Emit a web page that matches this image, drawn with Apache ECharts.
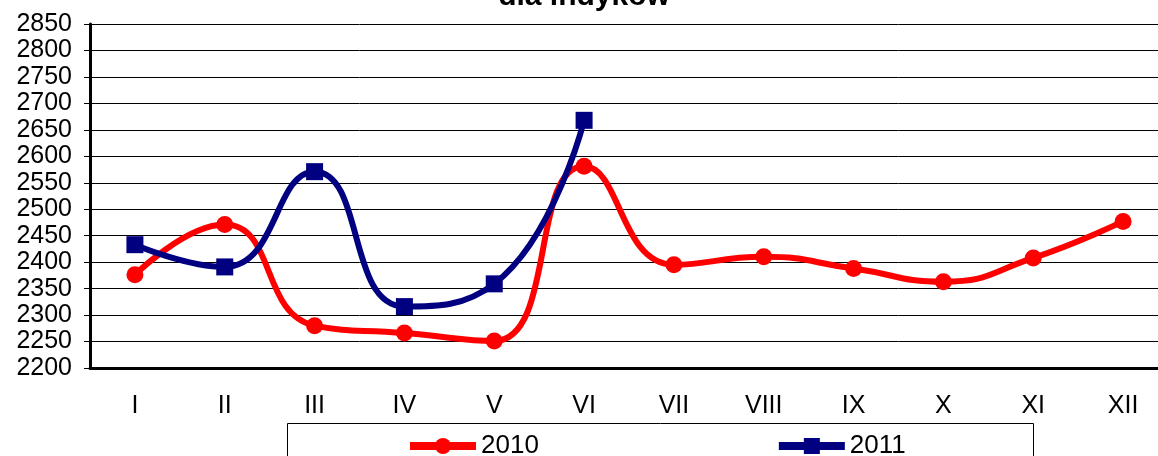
<!DOCTYPE html>
<html>
<head>
<meta charset="utf-8">
<script src="https://cdn.jsdelivr.net/npm/echarts@6/dist/echarts.min.js"></script>
<style>
  html, body { margin: 0; padding: 0; background: #fff; overflow: hidden; }
  #chart { width: 1168px; height: 456px; }
</style>
</head>
<body>
<div id="chart"></div>
<script>
var months = ['I', 'II', 'III', 'IV', 'V', 'VI', 'VII', 'VIII', 'IX', 'X', 'XI', 'XII'];
var ceny2010 = [2376, 2471, 2280, 2266, 2251, 2581, 2395, 2410, 2388, 2363, 2408, 2477];
var ceny2011 = [2433, 2391, 2571, 2316, 2359, 2668];

var myChart = echarts.init(document.getElementById('chart'));
var font = 'Liberation Sans, Arial, sans-serif';

var option = {
  animation: false,
  backgroundColor: '#fff',
  title: {
    text: 'dla indyków',
    left: 'center',
    top: -23,
    textStyle: { fontFamily: font, fontSize: 30, fontWeight: 'bold', color: '#000' }
  },
  legend: {
    left: 406,
    top: 433,
    padding: 0,
    itemWidth: 66,
    itemHeight: 20,
    itemGap: 236,
    lineStyle: { width: 8 },
    textStyle: { fontFamily: font, fontSize: 26, color: '#000' },
    data: ['2010', '2011']
  },
  graphic: [{
    type: 'rect',
    shape: { x: 287.5, y: 423.5, width: 746, height: 40 },
    style: { fill: 'none', stroke: '#000', lineWidth: 1 },
    silent: true
  }],
  grid: { left: 90, right: 0, top: 24, bottom: 88, containLabel: false },
  xAxis: {
    type: 'category',
    data: months,
    boundaryGap: true,
    axisLine: { lineStyle: { color: '#000', width: 3 } },
    axisTick: { inside: true, length: 9, lineStyle: { color: '#000', width: 1 } },
    axisLabel: { fontFamily: font, fontSize: 25, color: '#000', margin: 26 }
  },
  yAxis: {
    type: 'value',
    min: 2200,
    max: 2850,
    interval: 50,
    axisLine: { show: true, lineStyle: { color: '#000', width: 3 } },
    axisTick: { show: true, length: 6, lineStyle: { color: '#000' } },
    axisLabel: {
      fontFamily: font, fontSize: 25, color: '#000', margin: 18,
      formatter: function (v) { return String(v); }
    },
    splitLine: { lineStyle: { color: '#000', width: 1 } }
  },
  series: [{
    name: '2010',
    type: 'line',
    data: ceny2010,
    smooth: 0.5,
    symbol: 'circle',
    symbolSize: 17,
    itemStyle: { color: '#ff0000' },
    lineStyle: { color: '#ff0000', width: 6 }
  }, {
    name: '2011',
    type: 'line',
    data: ceny2011,
    smooth: 0.5,
    symbol: 'rect',
    symbolSize: 17,
    itemStyle: { color: '#000080' },
    lineStyle: { color: '#000080', width: 6 }
  }]
};

myChart.setOption(option);
</script>
</body>
</html>
